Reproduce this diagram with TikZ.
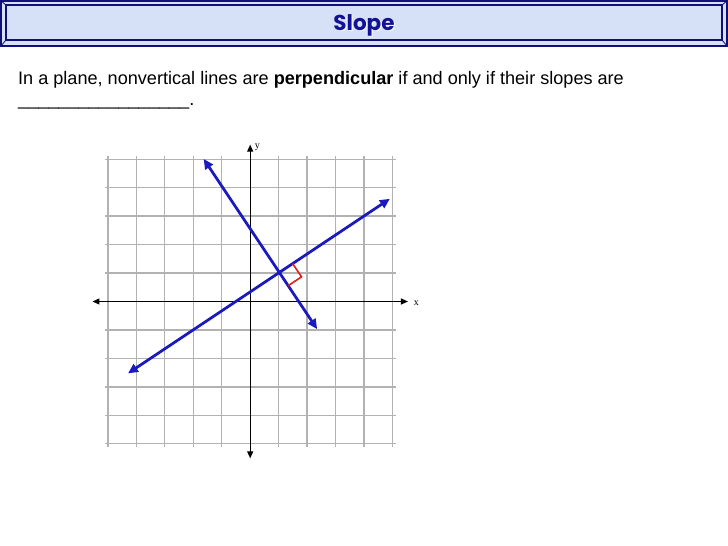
\documentclass[tikz,border=0pt]{standalone}
\usepackage{fontspec}
\setmainfont{Liberation Sans}
\newfontfamily\titlefont{Poppins}
\newfontfamily\labelfont{Liberation Serif}
\usetikzlibrary{arrows.meta}

\definecolor{barfill}{RGB}{214,224,247}
\definecolor{barline}{RGB}{16,16,120}
\definecolor{titleblue}{RGB}{18,18,150}
\definecolor{titleshade}{RGB}{240,244,255}
\definecolor{gridgray}{RGB}{178,178,178}
\definecolor{lineblue}{RGB}{26,26,190}
\definecolor{markred}{RGB}{222,30,30}

\tikzset{
  gridline/.style={draw=gridgray, line width=1.3pt},
  axisline/.style={line width=1.2pt, {Triangle[length=7pt,width=6pt]}-{Triangle[length=7pt,width=6pt]}},
  slopeline/.style={draw=lineblue, line width=2.8pt, {Triangle[length=10pt,width=9pt]}-{Triangle[length=10pt,width=9pt]}},
  anglemark/.style={draw=markred, line width=1.6pt},
  axislabel/.style={font=\labelfont\fontsize{10}{12}\selectfont, inner sep=0pt},
}

\begin{document}
\begin{tikzpicture}[x=1pt, y=-1pt, font=\fontsize{18.1}{20}\selectfont]
	\useasboundingbox (0,0) rectangle (728,546);

	% title bar
	\fill[barfill] (1,1) rectangle (727,46);
	\draw[barline, line width=1.3pt] (1,1) rectangle (727,46);
	\draw[barline, line width=1.2pt] (6,5) rectangle (722,40);
	\draw[barline, line width=0.8pt] (1,1) -- (6,5) (727,1) -- (722,5)
		(1,46) -- (6,40) (727,46) -- (722,40);
	\node[text=titleshade] (shade) at (365.5,26.5) {\titlefont\bfseries\fontsize{21.5}{23}\selectfont Slope};
	\node[text=titleblue] (title) at (364,25) {\titlefont\bfseries\fontsize{21.5}{23}\selectfont Slope};

	% statement
	\node[anchor=base west, inner sep=0pt] (rule) at (18,84) {In a plane, nonvertical lines are \textbf{perpendicular} if and only if their slopes are};
	\node[anchor=base west, inner sep=0pt] (blank) at (18,105) {\_\_\_\_\_\_\_\_\_\_\_\_\_\_\_\_\_.};

	% graph
	\begin{scope}[shift={(250.2,301.5)}, x=29.1pt, y=29.1pt]
		\draw[gridline] (-5,-5) grid (5,5);

		\coordinate (xl) at (-5.42,0);
		\coordinate (xr) at (5.42,0);
		\coordinate (yb) at (0,-5.39);
		\coordinate (yt) at (0,5.39);
		\draw[axisline] (xl) -- (xr);
		\draw[axisline] (yb) -- (yt);
		\node[axislabel, anchor=west] (xlab) at (5.62,-0.05) {x};
		\node[axislabel, anchor=west] (ylab) at (0.15,5.3) {y};

		\coordinate (A1) at (-4.2,-2.47);
		\coordinate (A2) at (4.8,3.53);
		\coordinate (B1) at (-1.6,4.9);
		\coordinate (B2) at (2.3,-0.95);
		\draw[slopeline] (A1) -- (A2);
		\draw[slopeline] (B1) -- (B2);

		\coordinate (M1) at (1.458,1.305);
		\coordinate (M2) at (1.763,0.848);
		\coordinate (M3) at (1.305,0.542);
		\draw[anglemark] (M1) -- (M2) -- (M3);
	\end{scope}
\end{tikzpicture}
\end{document}
